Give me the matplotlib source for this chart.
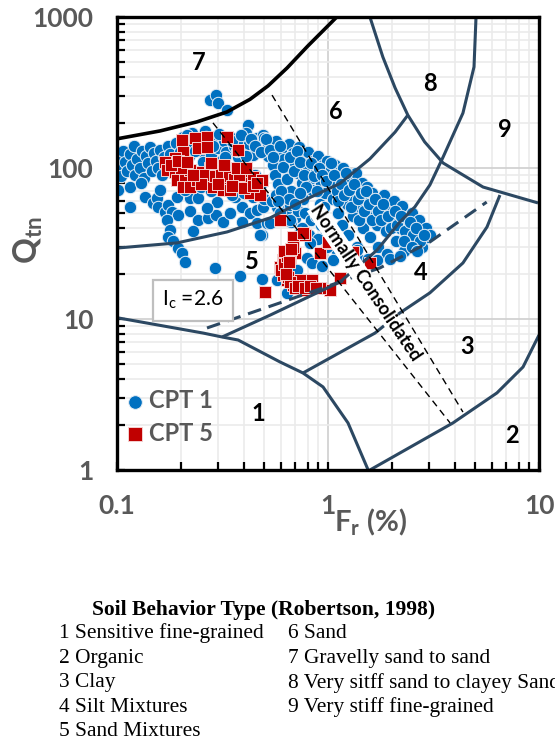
import matplotlib
matplotlib.use("Agg")
import matplotlib.pyplot as plt
from matplotlib.ticker import FixedLocator, LogLocator, NullFormatter

plt.rcParams["font.family"] = ["Lato", "DejaVu Sans"]
plt.rcParams["mathtext.fontset"] = "custom"
plt.rcParams["mathtext.rm"] = "Lato"
plt.rcParams["mathtext.bf"] = "Lato:bold"
plt.rcParams["mathtext.it"] = "Lato:italic"

# --- zone boundaries (Fr %, Qtn) ---
b67_fr = [0.1, 0.160, 0.239, 0.332, 0.427, 0.520, 0.640, 0.800, 1.10]
b67_q = [156, 176, 202, 235, 285, 350, 460, 640, 1000]

b56_fr = [0.1, 0.192, 0.332, 0.531, 0.793, 1.14, 1.58, 2.08, 2.39]
b56_q = [29.5, 31.9, 37.7, 46.7, 62.3, 79.0, 115, 173, 224]

b8_fr = [1.58, 1.82, 2.08, 2.39, 2.87, 3.51, 5.43, 9.89]
b8_q = [1000, 543, 339, 224, 149, 108, 74.8, 58.7]

b45_fr = [0.315, 0.531, 1.14, 1.708, 2.19, 2.58, 3.04, 3.51, 4.36, 4.92, 5.03]
b45_q = [7.6, 10.6, 17.6, 28.6, 43.9, 55.2, 77.2, 118, 231, 467, 1000]

b1_fr = [0.1, 0.256, 0.315, 0.375, 0.593, 0.761, 0.947, 1.244, 1.55]
b1_q = [10.2, 8.07, 7.6, 7.26, 5.19, 4.39, 3.55, 2.05, 1.0]

b2_fr = [1.58, 3.91, 6.32, 8.40, 10.0]
b2_q = [1.0, 2.05, 3.24, 4.81, 7.83]

b34_fr = [0.761, 1.67, 2.19, 3.04, 4.36, 5.67, 6.53]
b34_q = [4.39, 8.07, 10.96, 14.9, 23.5, 40.7, 66.2]

ic_fr = [0.267, 0.593, 1.764, 3.04, 5.65]
ic_q = [8.72, 12.8, 21.8, 32.4, 59.5]

nc1_fr = [0.285, 3.79]
nc1_q = [199, 2.05]
nc2_fr = [0.543, 4.36]
nc2_q = [304, 2.42]

zone_names = ["1", "2", "3", "4", "5", "6", "7", "8", "9"]
zone_fr = [0.466, 7.45, 4.55, 2.76, 0.436, 1.09, 0.245, 3.04, 6.90]
zone_q = [2.38, 1.68, 6.53, 20.2, 23.9, 235, 503, 365, 179]

# --- CPT 1 ---
cpt1_fr = [
    0.101, 0.103, 0.105, 0.107, 0.109, 0.112, 0.115, 0.118, 0.120, 0.122, 0.125, 0.128,
    0.131, 0.134, 0.137, 0.140, 0.143, 0.146, 0.150, 0.153, 0.157, 0.160, 0.164, 0.167,
    0.171, 0.175, 0.179, 0.183, 0.187, 0.191, 0.195, 0.199,
    0.101, 0.115, 0.115, 0.130, 0.136, 0.148, 0.155, 0.156, 0.160, 0.169, 0.174, 0.182,
    0.192, 0.195, 0.173, 0.178, 0.174, 0.184, 0.195, 0.203, 0.210,
    0.276, 0.295, 0.301, 0.332, 0.417, 0.409,
    0.205, 0.212, 0.220, 0.226, 0.230, 0.240, 0.250, 0.255, 0.260, 0.270, 0.280, 0.290,
    0.300, 0.310, 0.320, 0.330, 0.345, 0.360, 0.375, 0.390, 0.400, 0.420, 0.440, 0.460,
    0.470, 0.490, 0.500, 0.520,
    0.222, 0.242, 0.222, 0.242, 0.229, 0.270, 0.295, 0.318, 0.343, 0.391, 0.427, 0.362,
    0.297, 0.267, 0.391, 0.460, 0.487, 0.513, 0.460, 0.492, 0.572, 0.606, 0.210, 0.250,
    0.280, 0.320, 0.350, 0.400, 0.440, 0.500, 0.540, 0.570, 0.620, 0.640, 0.700, 0.670,
    0.210, 0.260, 0.330, 0.450, 0.480,
    0.500, 0.520, 0.540, 0.550, 0.560, 0.570, 0.580, 0.600, 0.620, 0.630, 0.640, 0.650,
    0.670, 0.680, 0.700, 0.720, 0.730, 0.750, 0.760, 0.780, 0.800, 0.800, 0.820, 0.840,
    0.850, 0.880, 0.900, 0.920, 0.930, 0.950, 0.970, 0.990,
    0.660, 0.720, 0.780, 0.830, 0.880, 0.930, 0.980, 0.750, 0.810, 0.900,
    1.02, 1.04, 1.06, 1.08, 1.10, 1.12, 1.14, 1.16, 1.18, 1.20, 1.23, 1.25,
    1.27, 1.30, 1.32, 1.35, 1.37, 1.40, 1.42, 1.45, 1.47, 1.50,
    1.05, 1.10, 1.18, 1.25, 1.32, 1.42, 1.55,
    1.53, 1.55, 1.58, 1.62, 1.65, 1.70, 1.72, 1.75, 1.80, 1.85, 1.88, 1.90,
    1.95, 2.00, 2.05, 2.10, 2.15, 2.20, 2.25, 2.30, 2.35, 2.40, 2.50, 2.55,
    2.60, 2.70, 2.75, 2.80, 2.90, 2.95, 3.05, 1.70, 1.97, 2.20,
    0.290, 0.383, 0.487, 0.572, 0.638, 0.711, 0.793, 0.840, 0.940, 1.06, 1.23, 1.37,
    1.10, 0.990, 0.820, 0.735, 0.660, 0.593, 0.531, 0.476,
    0.215, 0.235, 0.265, 0.285, 0.305, 0.325, 0.350, 0.370, 0.385, 0.410, 0.430, 0.450,
    0.480, 0.510, 0.530,
    0.550, 0.590, 0.610, 0.660, 0.690, 0.710, 0.740, 0.770, 0.790, 0.830, 0.860, 0.890,
    0.910, 0.940, 0.960, 0.980, 0.600, 0.650, 0.700, 0.740, 0.580,
    1.03, 1.07, 1.11, 1.15, 1.19, 1.22, 1.26, 1.29, 1.33, 1.38, 1.41, 1.44,
    1.48, 1.52, 1.57, 1.61, 1.67, 1.73, 1.78, 1.83, 1.92, 1.98,
    2.08, 2.12, 2.22, 2.32, 2.45, 2.52, 2.62, 2.72, 2.85, 2.30, 2.50, 2.65,
]
cpt1_q = [
    118, 100, 88, 130, 110, 95, 124, 104, 140, 90, 115, 100,
    130, 86, 120, 108, 138, 95, 126, 112, 100, 132, 90, 118,
    105, 140, 124, 95, 112, 147, 100, 128,
    71, 75, 55, 80, 64, 59, 63, 55, 71, 51, 57, 51,
    64, 49, 45, 39, 35, 33, 29.5, 27.4, 24,
    282, 304, 268, 242, 193, 171,
    160, 140, 120, 171, 95, 150, 130, 110, 175, 145, 122, 160,
    135, 112, 150, 128, 160, 140, 118, 152, 130, 145, 122, 158,
    135, 165, 145, 120,
    63, 63, 52, 45, 38, 47, 48.8, 44, 50.3, 55.2, 50.3, 64,
    59.5, 54.4, 44, 43.3, 36, 43.3, 52.7, 55.2, 55.2, 51.1, 71, 75,
    70, 72, 66, 68, 64, 62, 60, 66, 62, 53, 47, 44,
    85, 88, 80, 90, 78,
    158, 140, 125, 105, 90, 150, 78, 132, 115, 98, 85, 145,
    70, 125, 108, 92, 138, 80, 62, 118, 128, 100, 85, 72,
    112, 95, 120, 58, 80, 105, 68, 112,
    57, 52, 50, 45, 48, 42, 38, 40, 36, 34,
    95, 80, 62, 105, 70, 50, 88, 42, 100, 75, 58, 36,
    85, 65, 48, 92, 30, 72, 55, 80, 40, 62,
    32, 28, 27, 26, 25, 24.6, 25,
    75, 48, 35, 68, 56, 42, 30, 62, 50, 66, 38, 27,
    55, 45, 60, 33, 50, 40, 56, 28, 46, 36, 50, 42,
    32, 45, 38, 30, 40, 35, 36, 24.6, 25, 26,
    21.6, 19.3, 18.4, 18.1, 14.9, 21.1, 25.5, 23.5, 22.3, 24.6, 25.5, 28.6,
    31.9, 30.0, 31.9, 37.1, 45.3, 50.3, 43.3, 36,
    165, 130, 160, 140, 168, 118, 150, 130, 165, 120, 155, 140,
    128, 155, 132,
    118, 140, 102, 118, 95, 130, 110, 90, 75, 108, 88, 70,
    100, 90, 55, 82, 70, 62, 58, 68, 60,
    108, 90, 60, 78, 66, 92, 72, 55, 78, 62, 45, 68,
    52, 70, 58, 45, 62, 52, 45, 58, 48, 40,
    52, 42, 48, 38, 44, 36, 40, 33, 36, 33, 30, 28,
]

# --- CPT 5 ---
cpt5_fr = [
    0.203, 0.234, 0.267, 0.332, 0.242, 0.267, 0.206, 0.375, 0.188, 0.169, 0.173, 0.188,
    0.192, 0.210, 0.222, 0.206, 0.222, 0.239, 0.253, 0.270, 0.276, 0.297, 0.285, 0.308,
    0.325, 0.332, 0.318, 0.343, 0.370, 0.355, 0.395, 0.412, 0.440, 0.427, 0.476, 0.487,
    0.260, 0.290, 0.310, 0.340, 0.360, 0.380, 0.300, 0.350, 0.400, 0.250, 0.230, 0.440,
    0.320, 0.280, 0.200, 0.180, 0.195, 0.215, 0.370, 0.410,
    0.460, 0.593, 0.680, 0.777, 0.697, 0.914, 1.02, 1.31, 1.58, 1.14, 1.02, 0.914,
    0.840, 0.760, 0.680, 0.638, 0.610, 0.593, 0.610, 0.660, 0.680, 0.503, 0.840, 1.00,
    0.760, 0.735, 0.645,
    0.600, 0.620, 0.640, 0.620, 0.660, 0.700, 0.720, 0.780, 0.820, 0.880, 0.630, 0.650,
    0.670,
]
cpt5_q = [
    153, 158, 160, 160, 136, 138, 128, 132, 116, 110, 97, 94,
    83, 87, 97, 75, 75, 83, 94, 83, 100, 97, 75, 86,
    97, 83, 71.5, 71.5, 80, 97, 93, 80, 87, 68.5, 66, 83,
    90, 88, 92, 88, 84, 90, 78, 76, 74, 78, 90, 76,
    104, 108, 100, 105, 112, 110, 100, 100,
    79, 45.3, 34.9, 36, 27.4, 27.4, 31.9, 27.8, 23.5, 18.7, 15.6, 16.1,
    16.1, 15.6, 16.8, 18.1, 19.6, 22, 24.6, 25.5, 30, 15.2, 18.1, 32.4,
    37, 18.1, 19.0,
    21, 23, 26, 28, 17.5, 16, 16.5, 16, 16.5, 16, 20, 24,
    29,
]

legend_lines = [
    ("1 Sensitive fine-grained", "6 Sand"),
    ("2 Organic", "7 Gravelly sand to sand"),
    ("3 Clay", "8 Very sitff sand to clayey Sand"),
    ("4 Silt Mixtures", "9 Very stiff fine-grained"),
    ("5 Sand Mixtures", ""),
]

GREY = "#595959"
LINE = "#2c4862"

fig = plt.figure(figsize=(5.55, 7.42), dpi=100)
ax = fig.add_axes([117 / 555, 1 - 470 / 742, 422 / 555, 453 / 742])
ax.set_xscale("log")
ax.set_yscale("log")
ax.set_xlim(0.1, 10)
ax.set_ylim(1, 1000)

ax.grid(which="minor", color="#ebebeb", lw=1.2, zorder=0)
ax.grid(which="major", color="#d2d2d2", lw=1.3, zorder=0)
ax.set_axisbelow(True)

ax.scatter(cpt1_fr, cpt1_q, s=80, marker="o", color="#0070c0",
           edgecolors="#e8eef5", linewidths=0.7, zorder=3, label="CPT 1")
ax.scatter(cpt5_fr, cpt5_q, s=80, marker="s", color="#c00000",
           edgecolors="#f4d0d0", linewidths=0.7, zorder=4, label="CPT 5")

ax.plot(b67_fr, b67_q, color="black", lw=2.6, zorder=5)
for fr, q in [(b56_fr, b56_q), (b8_fr, b8_q), (b45_fr, b45_q),
              (b1_fr, b1_q), (b2_fr, b2_q), (b34_fr, b34_q)]:
    ax.plot(fr, q, color=LINE, lw=2.2, zorder=5, solid_capstyle="butt")
ax.plot(ic_fr, ic_q, color=LINE, lw=2.2, ls=(0, (4.5, 2.6)), zorder=5)
ax.plot(nc1_fr, nc1_q, color="black", lw=1.0, ls=(0, (5, 3.5)), zorder=5)
ax.plot(nc2_fr, nc2_q, color="black", lw=1.0, ls=(0, (5, 3.5)), zorder=5)

for name, fr, q in zip(zone_names, zone_fr, zone_q):
    ax.text(fr, q, name, ha="center", va="center", fontsize=17,
            fontweight="bold", color="black", zorder=6)

ax.text(1.514, 17.3, "Normally Consolidated", rotation=-56, ha="center",
        va="center", fontsize=13, fontweight="bold", zorder=7,
        rotation_mode="anchor",
        bbox=dict(facecolor="white", edgecolor="none", pad=0.4))

ax.text(0.18, 0.375, r"I$_\mathrm{c}$ =2.6", transform=ax.transAxes,
        ha="center", va="center", fontsize=15, color="black", zorder=7,
        bbox=dict(boxstyle="square,pad=0.45", facecolor="white",
                  edgecolor="#bfbfbf", lw=1.6))

ax.xaxis.set_major_locator(FixedLocator([0.1, 1, 10]))
ax.xaxis.set_minor_locator(LogLocator(base=10, subs=range(2, 10)))
ax.yaxis.set_major_locator(FixedLocator([1, 10, 100, 1000]))
ax.yaxis.set_minor_locator(LogLocator(base=10, subs=range(2, 10)))
ax.xaxis.set_minor_formatter(NullFormatter())
ax.yaxis.set_minor_formatter(NullFormatter())
ax.set_xticklabels(["0.1", "1", "10"])
ax.set_yticklabels(["1", "10", "100", "1000"])
ax.tick_params(which="both", direction="in", length=6, width=1.6,
               top=False, right=False, colors="black")
ax.tick_params(axis="both", which="major", labelsize=19, labelcolor=GREY, pad=17)
for lab in ax.get_xticklabels() + ax.get_yticklabels():
    lab.set_fontweight("bold")
for sp in ax.spines.values():
    sp.set_linewidth(2.4)
    sp.set_zorder(8)

leg = ax.legend(loc="lower left", bbox_to_anchor=(-0.02, 0.025), frameon=False,
                handletextpad=0.1, handlelength=1.0, labelspacing=0.4,
                borderaxespad=0.2, markerscale=1.1,
                prop={"weight": "bold", "size": 17})
for t in leg.get_texts():
    t.set_color(GREY)

fig.text(28 / 555, 1 - 240 / 742, r"$\mathbf{Q_{tn}}$", rotation=90,
         ha="center", va="center", fontsize=23, color=GREY)
fig.text(370 / 555, 1 - 522 / 742, r"F$_\mathbf{r}$ (%)", ha="center",
         va="center", fontsize=21, color=GREY, fontweight="bold")

serif = "Liberation Serif"
fig.text(264 / 555, 1 - 610 / 742, "Soil Behavior Type (Robertson, 1998)",
         ha="center", va="center", fontsize=15.5, fontweight="bold",
         family=serif)
row_y = [633, 658, 683, 707, 732]
for (left, right), y in zip(legend_lines, row_y):
    fig.text(59 / 555, 1 - y / 742, left, ha="left", va="center",
             fontsize=15.4, family=serif)
    if right:
        fig.text(288 / 555, 1 - y / 742, right, ha="left", va="center",
                 fontsize=15.4, family=serif)

fig.savefig("out.png", dpi=100)
